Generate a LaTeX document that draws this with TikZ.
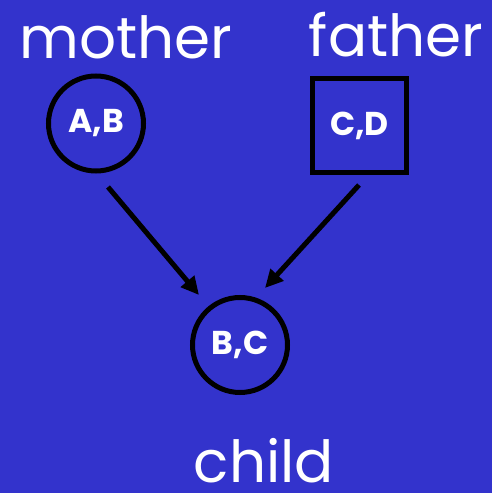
\documentclass[tikz,border=0pt]{standalone}
\usepackage{fontspec}
\setmainfont{Poppins}
\usetikzlibrary{arrows.meta}
\definecolor{bg}{HTML}{3333CC}
\begin{document}
\begin{tikzpicture}[x=1pt,y=1pt,
  person/.style={draw=black,line width=5pt,inner sep=0pt,text=white,font=\fontsize{33}{33}\selectfont\bfseries},
  title/.style={text=white,anchor=base,inner sep=0pt,text depth=0pt,font=\fontsize{58}{58}\selectfont},
  link/.style={draw=black,line width=5pt,-{Triangle[length=18pt,width=17pt]}}]
\fill[bg] (0,0) rectangle (492,493);
\useasboundingbox (0,0) rectangle (492,493);
\node[person,circle,minimum size=95pt] (mother) at (96,369.5) {A,B};
\node[person,rectangle,minimum size=94pt] (father) at (359.5,367) {C,D};
\node[person,circle,minimum size=95pt] (child) at (240,148) {B,C};
\node[title] (tm) at (126,434) {mother};
\node[title] (tf) at (396,436) {father};
\node[title] (tc) at (264,10) {child};
\coordinate (m1) at (108,306);
\coordinate (m2) at (199,198);
\coordinate (f1) at (359,308);
\coordinate (f2) at (265,205);
\draw[link] (m1) -- (m2);
\draw[link] (f1) -- (f2);
\end{tikzpicture}
\end{document}
